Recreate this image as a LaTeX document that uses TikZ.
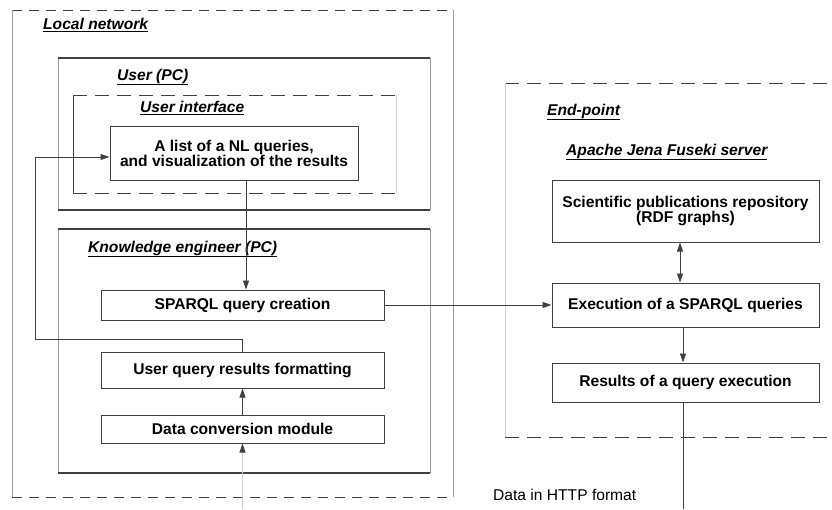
\documentclass[tikz,border=0pt]{standalone}
\usepackage{fontspec}
\setmainfont{Liberation Sans}
\usetikzlibrary{arrows.meta}
\definecolor{lc}{HTML}{404040}
\definecolor{lg}{HTML}{9A9A9A}
\definecolor{lgg}{HTML}{D0D0D0}
\newcommand\fsz{\fontsize{15.6}{16}\selectfont}
\tikzset{
  box/.style={draw=lc, line width=1pt, inner sep=0pt, align=center, font=\fsz\bfseries, text=black},
  lab/.style={anchor=west, inner sep=0pt, font=\fsz\bfseries\itshape, text=black},
  plain/.style={anchor=west, inner sep=0pt, font=\fsz, text=black},
  arr/.style={draw=lc, line width=0.9pt, -{Triangle[length=9pt,width=6pt]}},
  darr/.style={draw=lc, line width=0.9pt, {Triangle[length=9pt,width=6pt]}-{Triangle[length=9pt,width=6pt]}},
  dash1/.style={draw=lc, line width=0.8pt, dash pattern=on 10pt off 7pt},
  dash2/.style={draw=lc, line width=0.8pt, dash pattern=on 14pt off 8pt},
  side/.style={draw=lg, line width=0.7pt},
  frame/.style={draw=lc, line width=1.8pt}
}
\begin{document}
\begin{tikzpicture}[x=1pt,y=-1pt]
\useasboundingbox (0,0) rectangle (832,509);
% Local network frame
\draw[dash1] (12,10) -- (453,10);
\draw[dash1] (12,497) -- (453,497);
\draw[side] (12,10) -- (12,497);
\draw[side] (453,10) -- (453,497);
\node[lab] (lnet) at (43,25) {\underline{Local network}};
% User (PC) frame
\draw[side] (58,58) -- (58,210);
\draw[side] (430,58) -- (430,210);
\draw[frame] (58,58) -- (430,58);
\draw[frame] (58,210) -- (430,210);
\node[lab] (upc) at (117,77) {\underline{User (PC)}};
% User interface frame
\draw[dash2] (73,95) -- (396,95);
\draw[dash2] (73,193) -- (396,193);
\draw[side, draw=lc] (73,95) -- (73,193);
\draw[side, draw=lgg] (396,95) -- (396,193);
\node[lab] (ui) at (140,108) {\underline{User interface}};
% Knowledge engineer frame
\draw[side] (58,229) -- (58,473);
\draw[side] (430,229) -- (430,473);
\draw[frame] (58,229) -- (430,229);
\draw[frame] (58,473) -- (430,473);
\node[lab] (ke) at (88,249) {\underline{Knowledge engineer (PC)}};
% End-point frame
\draw[dash2] (505,83) -- (832,83);
\draw[dash2] (505,437) -- (832,437);
\draw[draw=lgg, line width=0.6pt] (505,83) -- (505,437);
\node[lab] (ep) at (547,112) {\underline{End-point}};
\node[lab] (ajf) at (566,152) {\underline{Apache Jena Fuseki server}};
% boxes
\node[box, minimum width=248pt, minimum height=54pt] (nl) at (234,153) {A list of a NL queries,\\[-1pt] and visualization of the results};
\node[box, minimum width=283pt, minimum height=30pt] (sparql) at (242.5,305) {SPARQL query creation};
\node[box, minimum width=283pt, minimum height=36pt] (urf) at (242.5,370) {User query results formatting};
\node[box, minimum width=283pt, minimum height=28pt] (dcm) at (242.5,429) {Data conversion module};
\node[box, minimum width=267pt, minimum height=62pt] (sci) at (685.5,211) {Scientific publications repository\\[-1pt](RDF graphs)};
\node[box, minimum width=267pt, minimum height=44pt] (exec) at (685.5,305) {Execution of a SPARQL queries};
\node[box, minimum width=267pt, minimum height=39pt] (res) at (685.5,382.5) {Results of a query execution};
\node[plain] (http) at (493,495) {Data in HTTP format};
% connectors
\coordinate (c1) at (246,0);
\draw[arr] (nl.south -| c1) -- (sparql.north -| c1);
\coordinate (lp) at (35,339);
\draw[arr] (urf.north) |- (lp) |- ([yshift=-4pt]nl.west);
\draw[arr] (dcm.north) -- (urf.south);
\coordinate (inp) at (242.5,509);
\draw[draw=lgg, line width=0.9pt, -{Triangle[length=9pt,width=6pt,color=lc]}] (inp) -- (dcm.south);
\draw[arr] (sparql.east) -- (exec.west);
\coordinate (c2) at (680,0);
\draw[darr] (sci.south -| c2) -- (exec.north -| c2);
\coordinate (c3) at (683,0);
\draw[arr] (exec.south -| c3) -- (res.north -| c3);
\coordinate (outp) at (683,509);
\draw[draw=lc, line width=0.9pt] (res.south -| outp) -- (outp);
\end{tikzpicture}
\end{document}
